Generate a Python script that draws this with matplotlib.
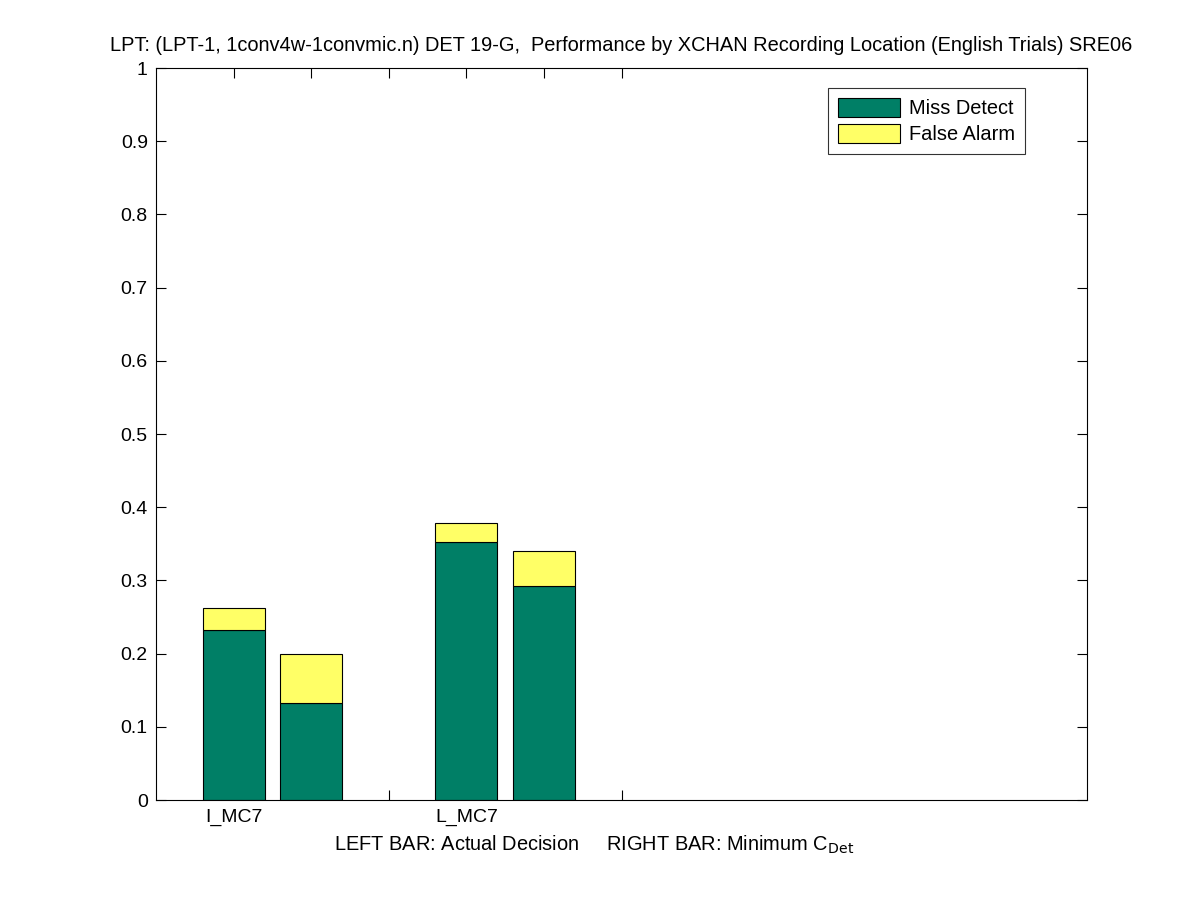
import numpy as np
import matplotlib
matplotlib.use("Agg")
import matplotlib.pyplot as plt
from matplotlib.patches import Patch

plt.rcParams["font.family"] = ["Liberation Sans", "DejaVu Sans"]

locations = ["I_MC7", "L_MC7"]
# left bar: actual decision, right bar: minimum C_Det
actual_miss = [0.232, 0.353]
actual_fa = [0.030, 0.025]
min_miss = [0.132, 0.292]
min_fa = [0.067, 0.048]

green = "#007F66"
yellow = "#FFFF66"

fig = plt.figure(figsize=(12.01, 9.0), dpi=100)
ax = fig.add_axes([0.13, 0.111, 0.775, 0.8134])
ax.set_axisbelow(True)

# each location takes 3 slots: left bar, right bar, separator
left_x = np.arange(len(locations)) * 3 + 1
right_x = left_x + 1
w = 0.8

ax.bar(left_x, actual_miss, w, color=green, edgecolor="black", linewidth=0.8)
ax.bar(left_x, actual_fa, w, bottom=actual_miss, color=yellow, edgecolor="black", linewidth=0.8)
ax.bar(right_x, min_miss, w, color=green, edgecolor="black", linewidth=0.8)
ax.bar(right_x, min_fa, w, bottom=min_miss, color=yellow, edgecolor="black", linewidth=0.8)

ticks = []
labels = []
for i, loc in enumerate(locations):
    ticks += [left_x[i], right_x[i], right_x[i] + 1]
    labels += [loc, "", ""]
ax.set_xticks(ticks)
ax.set_xticklabels(labels)
ax.set_xlim(0, 12)
ax.set_ylim(0, 1)
ax.set_yticks(np.arange(0, 1.01, 0.1))
ax.set_yticklabels(["0"] + [f"{v:.1f}" for v in np.arange(0.1, 0.95, 0.1)] + ["1"])
ax.tick_params(direction="in", top=True, right=True, length=7, labelsize=14, pad=6)
for s in ax.spines.values():
    s.set_linewidth(0.8)
    s.set_zorder(3)

ax.set_title("LPT: (LPT-1, 1conv4w-1convmic.n) DET 19-G,  Performance by XCHAN Recording Location (English Trials) SRE06",
             fontsize=14.4, pad=12)
fig.text(594 / 1201, 1 - 845 / 900, "LEFT BAR: Actual Decision     RIGHT BAR: Minimum C$_{\\mathrm{Det}}$",
         ha="center", va="center", fontsize=14.4)

handles = [Patch(facecolor=green, edgecolor="black", linewidth=0.8, label="Miss Detect"),
           Patch(facecolor=yellow, edgecolor="black", linewidth=0.8, label="False Alarm")]
leg = ax.legend(handles=handles, loc="upper right", bbox_to_anchor=(0.9334, 0.9727),
                fontsize=14.4, frameon=True, fancybox=False, edgecolor="black",
                handlelength=3.1, handleheight=1.05, handletextpad=0.45,
                borderpad=0.5, labelspacing=0.3, borderaxespad=0)
leg.get_frame().set_linewidth(0.8)

fig.savefig("out.png", dpi=100)
